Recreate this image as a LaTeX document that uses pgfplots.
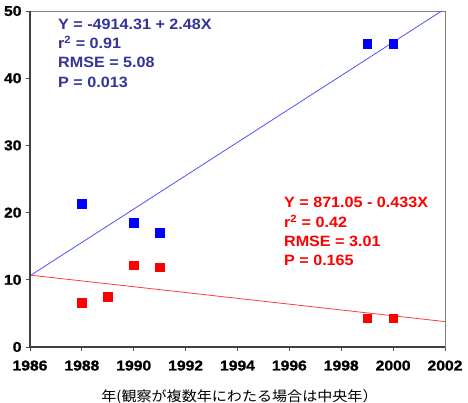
\documentclass[border=0pt]{standalone}
\usepackage{pgfplots}
\pgfplotsset{compat=1.18}
\usepackage{fontspec}
\setmainfont[FakeStretch=1.08]{Liberation Sans}
\newfontfamily\tickfont[FakeStretch=1.1, FakeBold=1.2]{Liberation Sans Bold}
\newfontfamily\cjk[FakeStretch=1.08]{Noto Sans CJK JP}
\definecolor{bluetxt}{RGB}{51,51,153}
\definecolor{blueline}{RGB}{80,80,255}
\definecolor{redline}{RGB}{255,60,60}
\begin{document}
\begin{tikzpicture}
\begin{axis}[
  scale only axis, width=415bp, height=336bp,
  xmin=1986, xmax=2002, ymin=0, ymax=50,
  xtick={1986,1988,...,2002}, ytick={0,10,...,50},
  xticklabels={1986,1988,1990,1992,1994,1996,1998,2000,2002},
  yticklabels={0,10,20,30,40,50},
  xtick pos=left, ytick pos=left,
  tick align=outside, major tick length=4bp,
  tick style={black!70, line width=0.8pt},
  axis line style={draw=gray, line width=1pt},
  ticklabel style={font=\tickfont\fontsize{14.3}{14.3}\selectfont, text=black},
  xticklabel style={yshift=-6bp},
  yticklabel style={xshift=-1bp},
  xlabel={\cjk\fontsize{14}{14}\selectfont 年(観察が複数年にわたる場合は中央年）},
  xlabel style={yshift=-15.5bp, xshift=2bp, inner sep=0pt},
  clip=false,
]
\addplot[only marks, mark=square*, mark size=4.3bp, color=blue] coordinates {
  (1988,21.3) (1990,18.5) (1991,17.05) (1999,45.1) (2000,45.1)
};
\addplot[only marks, mark=square*, mark size=4.3bp, color=red] coordinates {
  (1988,6.6) (1989,7.45) (1990,12.2) (1991,11.9) (1999,4.28) (2000,4.28)
};
\addplot[blueline, line width=0.8pt] coordinates {(1986,10.6) (2001.87,50)};
\addplot[redline, line width=0.8pt] coordinates {(1986,10.7) (2002,3.78)};
\draw[black!75, line width=1.2pt] (rel axis cs:0,1) -- (rel axis cs:0,0) -- (rel axis cs:1,0);
\begin{scope}[every node/.style={anchor=base west, inner sep=0pt, font=\fontsize{15}{15}\selectfont\bfseries}]
\node[text=bluetxt] at (axis cs:1987.08,47.30) {Y = -4914.31 + 2.48X};
\node[text=bluetxt] at (axis cs:1987.08,44.42) {r\textsuperscript{2} = 0.91};
\node[text=bluetxt] at (axis cs:1987.08,41.55) {RMSE = 5.08};
\node[text=bluetxt] at (axis cs:1987.08,38.67) {P = 0.013};
\node[text=red] at (axis cs:1995.79,20.70) {Y = 871.05 - 0.433X};
\node[text=red] at (axis cs:1995.79,17.82) {r\textsuperscript{2} = 0.42};
\node[text=red] at (axis cs:1995.79,14.95) {RMSE = 3.01};
\node[text=red] at (axis cs:1995.79,12.07) {P = 0.165};
\end{scope}
\end{axis}
\pgfresetboundingbox
\path ([shift={(-30bp,-56bp)}]current axis.south west) rectangle ([shift={(23bp,11bp)}]current axis.north east);
\end{tikzpicture}
\end{document}
